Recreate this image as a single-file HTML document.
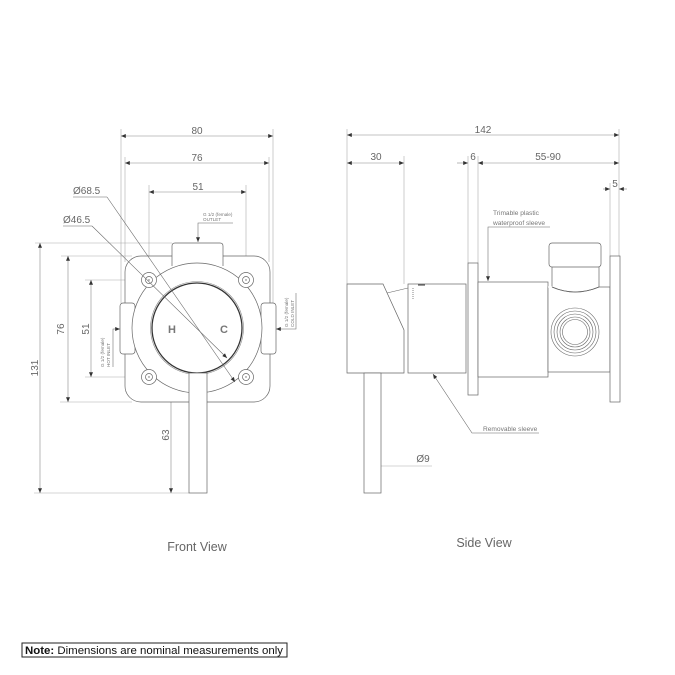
<!DOCTYPE html>
<html><head><meta charset="utf-8"><style>
html,body{margin:0;padding:0;background:#fff;}
svg{display:block;}
text{font-family:"Liberation Sans",sans-serif;}
</style></head><body>
<svg width="675" height="675" viewBox="0 0 675 675" xmlns="http://www.w3.org/2000/svg">
<defs>
<marker id="a" viewBox="0 0 6 5" refX="6" refY="2.5" markerWidth="5" markerHeight="4" markerUnits="userSpaceOnUse" orient="auto-start-reverse"><path d="M0,0L6,2.5L0,5z" fill="#333"/></marker>
</defs>
<rect width="675" height="675" fill="#fff"/>

<!-- ============ FRONT VIEW ============ -->
<g stroke="#aaa" stroke-width="0.6" fill="none">
  <line x1="121" y1="129" x2="121" y2="303"/>
  <line x1="273" y1="129" x2="273" y2="303"/>
  <line x1="125" y1="157" x2="125" y2="262"/>
  <line x1="269" y1="157" x2="269" y2="262"/>
  <line x1="149" y1="185" x2="149" y2="273"/>
  <line x1="246" y1="185" x2="246" y2="273"/>
  <line x1="35" y1="243" x2="172" y2="243"/>
  <line x1="34" y1="493" x2="189" y2="493"/>
  <line x1="61" y1="256" x2="132" y2="256"/>
  <line x1="60" y1="402" x2="132" y2="402"/>
  <line x1="85" y1="280" x2="142" y2="280"/>
  <line x1="85" y1="377" x2="142" y2="377"/>
  <line x1="166" y1="373" x2="186" y2="373"/>
</g>
<g stroke="#888" stroke-width="0.6" fill="none" marker-start="url(#a)" marker-end="url(#a)">
  <line x1="121" y1="136" x2="273" y2="136"/>
  <line x1="125" y1="163" x2="269" y2="163"/>
  <line x1="149" y1="192" x2="246" y2="192"/>
  <line x1="40" y1="243" x2="40" y2="493"/>
  <line x1="68" y1="256" x2="68" y2="402"/>
  <line x1="91" y1="280" x2="91" y2="377"/>
  <line x1="171" y1="373" x2="171" y2="493"/>
</g>
<g fill="#666" font-size="10" text-anchor="middle">
  <text x="197" y="134">80</text>
  <text x="197" y="161">76</text>
  <text x="198" y="190">51</text>
  <text transform="translate(38,368) rotate(-90)">131</text>
  <text transform="translate(64,329) rotate(-90)">76</text>
  <text transform="translate(89,329) rotate(-90)">51</text>
  <text transform="translate(169,435) rotate(-90)">63</text>
</g>
<g fill="#666" font-size="10">
  <text x="73" y="194">Ø68.5</text>
  <text x="63" y="223">Ø46.5</text>
</g>

<rect x="125" y="256" width="145" height="146" rx="16" fill="#fff" stroke="#666" stroke-width="0.7"/>
<rect x="120" y="303" width="15" height="51" rx="3" fill="#fff" stroke="#666" stroke-width="0.7"/>
<rect x="261" y="303" width="15" height="51" rx="3" fill="#fff" stroke="#666" stroke-width="0.7"/>
<path d="M172,266 L172,246 Q172,243 175,243 L220,243 Q223,243 223,246 L223,266" fill="#fff" stroke="#666" stroke-width="0.7"/>
<circle cx="197" cy="328" r="65" fill="#fff" stroke="#666" stroke-width="0.7"/>
<g fill="#fff" stroke="#666" stroke-width="0.7">
  <circle cx="149" cy="280" r="7.5"/><circle cx="149" cy="280" r="3.5"/>
  <circle cx="246" cy="280" r="7.5"/><circle cx="246" cy="280" r="3.5"/>
  <circle cx="149" cy="377" r="7.5"/><circle cx="149" cy="377" r="3.5"/>
  <circle cx="246" cy="377" r="7.5"/><circle cx="246" cy="377" r="3.5"/>
</g>
<g fill="#666">
  <circle cx="149" cy="280" r="0.7"/><circle cx="246" cy="280" r="0.7"/>
  <circle cx="149" cy="377" r="0.7"/><circle cx="246" cy="377" r="0.7"/>
</g>
<circle cx="197" cy="328" r="46.5" fill="#fff" stroke="#888" stroke-width="0.6"/>
<circle cx="197" cy="328" r="45" fill="#fff" stroke="#333" stroke-width="1.3"/>
<rect x="189" y="373" width="18" height="120" fill="#fff" stroke="#666" stroke-width="0.7"/>
<text x="172" y="333" font-size="11" font-weight="bold" fill="#777" text-anchor="middle">H</text>
<text x="224" y="333" font-size="11" font-weight="bold" fill="#777" text-anchor="middle">C</text>

<g stroke="#666" stroke-width="0.55" fill="none">
  <line x1="73" y1="197" x2="107" y2="197"/>
  <line x1="63" y1="226" x2="92" y2="226"/>
  <line x1="107" y1="197" x2="235" y2="382" marker-end="url(#a)"/>
  <line x1="92" y1="226" x2="227" y2="358" marker-end="url(#a)"/>
  <polyline points="233,223 198,223 198,242" marker-end="url(#a)"/>
  <polyline points="113,367 113,329 120,329" marker-end="url(#a)"/>
  <polyline points="296,293 296,329 276,329" marker-end="url(#a)"/>
</g>
<g fill="#777" font-size="4.6">
  <text x="203" y="216">G 1/2 (female)</text>
  <text x="203" y="221">OUTLET</text>
  <text transform="translate(104,367) rotate(-90)">G 1/2 (female)</text>
  <text transform="translate(110,367) rotate(-90)">HOT INLET</text>
  <text transform="translate(288,327) rotate(-90)">G 1/2 (female)</text>
  <text transform="translate(294,327) rotate(-90)">COLD INLET</text>
</g>
<text x="197" y="551" font-size="12.5" fill="#666" text-anchor="middle">Front View</text>

<!-- ============ SIDE VIEW ============ -->
<g stroke="#aaa" stroke-width="0.6" fill="none">
  <line x1="347" y1="129" x2="347" y2="284"/>
  <line x1="404" y1="156" x2="404" y2="284"/>
  <line x1="468" y1="156" x2="468" y2="263"/>
  <line x1="478" y1="156" x2="478" y2="263"/>
  <line x1="610" y1="183" x2="610" y2="256"/>
  <line x1="619" y1="129" x2="619" y2="256"/>
  <line x1="381" y1="466" x2="432" y2="466"/>
</g>
<g stroke="#888" stroke-width="0.6" fill="none">
  <line x1="347" y1="135" x2="619" y2="135" marker-start="url(#a)" marker-end="url(#a)"/>
  <line x1="347" y1="163" x2="404" y2="163" marker-start="url(#a)" marker-end="url(#a)"/>
  <line x1="457" y1="163" x2="468" y2="163" marker-end="url(#a)"/>
  <line x1="478" y1="163" x2="619" y2="163" marker-start="url(#a)" marker-end="url(#a)"/>
  <line x1="603" y1="189" x2="610" y2="189" marker-end="url(#a)"/>
  <line x1="627" y1="189" x2="619" y2="189" marker-end="url(#a)"/>
  <line x1="364" y1="466" x2="381" y2="466" marker-start="url(#a)" marker-end="url(#a)"/>
  <line x1="441" y1="285" x2="441" y2="373" marker-start="url(#a)" marker-end="url(#a)"/>
  <line x1="531" y1="282" x2="531" y2="377" marker-start="url(#a)" marker-end="url(#a)"/>
</g>
<g fill="#666" font-size="10" text-anchor="middle">
  <text x="483" y="133">142</text>
  <text x="376" y="160">30</text>
  <text x="473" y="160">6</text>
  <text x="548" y="160">55-90</text>
  <text x="615" y="187">5</text>
  <text x="423" y="462">Ø9</text>
  <text transform="translate(437,329) rotate(-90)">Ø46</text>
  <text transform="translate(528,329) rotate(-90)">Ø50</text>
</g>

<g fill="#fff" stroke="#666" stroke-width="0.7">
  <polygon points="347,284 383,284 404,330 404,373 347,373"/>
  <rect x="364" y="373" width="17" height="120"/>
  <rect x="408" y="284" width="58" height="89"/>
  <rect x="468" y="263" width="10" height="132"/>
  <rect x="478" y="282" width="70" height="95"/>
  <rect x="548" y="287" width="62" height="85"/>
  <path d="M552,266 L552,287 Q575,297 599,287 L599,266 Z"/>
  <rect x="549" y="243" width="52" height="24" rx="3"/>
  <rect x="610" y="256" width="10" height="146"/>
</g>
<line x1="548" y1="287" x2="553" y2="287" stroke="#fff" stroke-width="1.2"/>
<path d="M552,287 Q575,297 599,287" fill="none" stroke="#666" stroke-width="0.7"/>
<line x1="387" y1="293" x2="408" y2="288" stroke="#666" stroke-width="0.6"/>
<line x1="418" y1="285" x2="425" y2="285" stroke="#333" stroke-width="1"/>
<line x1="413" y1="288" x2="413" y2="300" stroke="#666" stroke-width="0.8" stroke-dasharray="1,1"/>
<g fill="none" stroke="#666" stroke-width="0.6">
  <circle cx="575" cy="332" r="24"/>
  <circle cx="575" cy="332" r="21"/>
  <circle cx="575" cy="332" r="18"/>
  <circle cx="575" cy="332" r="15"/>
  <circle cx="575" cy="332" r="12.5"/>
</g>

<g stroke="#666" stroke-width="0.55" fill="none">
  <polyline points="550,227 488,227 488,281" marker-end="url(#a)"/>
  <polyline points="539,433 472,433 433,374" marker-end="url(#a)"/>
</g>
<g fill="#777" font-size="6.6">
  <text x="493" y="215">Trimable plastic</text>
  <text x="493" y="225">waterproof sleeve</text>
  <text x="483" y="431">Removable sleeve</text>
</g>
<text x="484" y="547" font-size="12.5" fill="#666" text-anchor="middle">Side View</text>

<rect x="22" y="643" width="265" height="14" fill="#fff" stroke="#222" stroke-width="1"/>
<text x="25" y="654" font-size="11" fill="#111" textLength="258" lengthAdjust="spacingAndGlyphs"><tspan font-weight="bold">Note:</tspan> Dimensions are nominal measurements only</text>
</svg>
</body></html>
